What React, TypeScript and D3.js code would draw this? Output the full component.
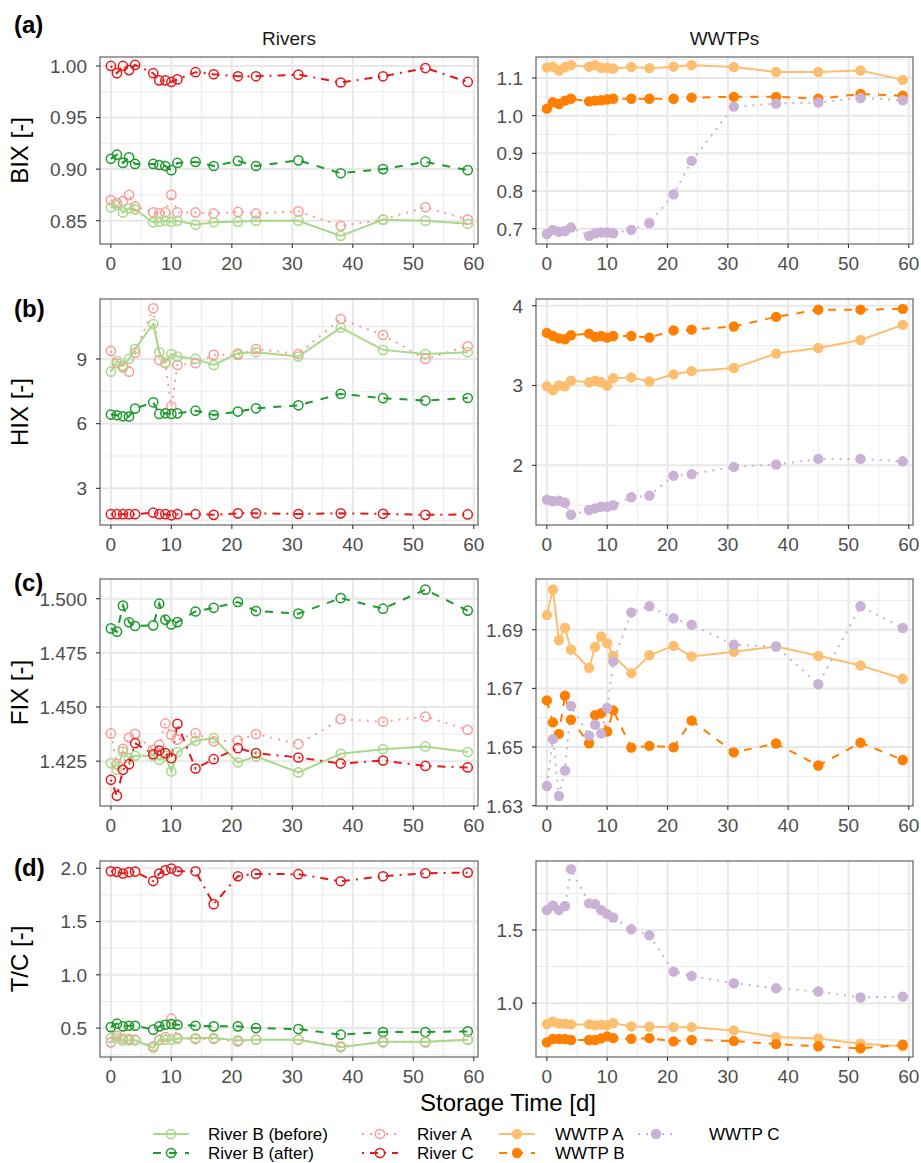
import * as d3 from "d3";

const W = 921;
const H = 1163;
const FONT = "'Liberation Sans', Arial, Helvetica, sans-serif";

// storage days
const days = [0, 1, 2, 3, 4, 7, 8, 9, 10, 11, 14, 17, 21, 24, 31, 38, 45, 52, 59];

// BIX
const bixRiverBBefore = [0.863, 0.865, 0.858, 0.862, 0.861, 0.8485, 0.849, 0.85, 0.849, 0.85, 0.846, 0.8485, 0.849, 0.85, 0.85, 0.8353, 0.851, 0.85, 0.847];
const bixRiverBAfter = [0.91, 0.914, 0.906, 0.9115, 0.905, 0.905, 0.904, 0.903, 0.899, 0.906, 0.907, 0.903, 0.908, 0.903, 0.9085, 0.896, 0.9, 0.907, 0.899];
const bixRiverA = [0.87, 0.867, 0.869, 0.875, 0.864, 0.858, 0.857, 0.858, 0.875, 0.858, 0.858, 0.857, 0.8585, 0.857, 0.859, 0.845, 0.851, 0.863, 0.851];
const bixRiverC = [1.0, 0.993, 1.0, 0.996, 1.001, 0.993, 0.986, 0.986, 0.9845, 0.987, 0.994, 0.992, 0.99, 0.99, 0.9916, 0.984, 0.99, 0.998, 0.9845];
const bixWwtpA = [1.128, 1.13, 1.12, 1.129, 1.134, 1.13, 1.134, 1.127, 1.127, 1.125, 1.129, 1.126, 1.13, 1.134, 1.129, 1.116, 1.116, 1.12, 1.095];
const bixWwtpB = [1.0186, 1.0355, 1.031, 1.04, 1.045, 1.038, 1.04, 1.041, 1.043, 1.045, 1.045, 1.045, 1.045, 1.048, 1.05, 1.05, 1.045, 1.0575, 1.053];
const bixWwtpC = [0.686, 0.697, 0.692, 0.694, 0.703, 0.681, 0.688, 0.69, 0.69, 0.688, 0.697, 0.715, 0.791, 0.88, 1.024, 1.032, 1.035, 1.047, 1.041];

// HIX
const hixRiverBBefore = [8.41, 8.91, 8.68, 9.0, 9.46, 10.62, 9.31, 8.83, 9.23, 9.11, 9.0, 8.72, 9.26, 9.31, 9.11, 10.45, 9.42, 9.23, 9.31];
const hixRiverBAfter = [6.42, 6.39, 6.34, 6.33, 6.7, 6.99, 6.45, 6.48, 6.45, 6.48, 6.6, 6.4, 6.56, 6.71, 6.85, 7.38, 7.18, 7.07, 7.19];
const hixRiverA = [9.37, 8.8, 8.61, 8.41, 9.29, 11.35, 8.95, 8.8, 6.79, 8.72, 8.8, 9.19, 9.19, 9.46, 9.23, 10.85, 10.11, 9.0, 9.59];
const hixRiverC = [1.8, 1.8, 1.8, 1.8, 1.8, 1.87, 1.8, 1.8, 1.75, 1.8, 1.8, 1.77, 1.84, 1.84, 1.81, 1.84, 1.82, 1.77, 1.79];
const hixWwtpA = [2.99, 2.94, 3.0, 2.99, 3.06, 3.04, 3.06, 3.04, 3.0, 3.09, 3.1, 3.05, 3.14, 3.18, 3.22, 3.4, 3.47, 3.57, 3.76];
const hixWwtpB = [3.66, 3.62, 3.59, 3.58, 3.63, 3.65, 3.61, 3.62, 3.6, 3.62, 3.62, 3.6, 3.69, 3.7, 3.74, 3.86, 3.95, 3.95, 3.96];
const hixWwtpC = [1.57, 1.55, 1.555, 1.53, 1.38, 1.44, 1.46, 1.48, 1.48, 1.5, 1.6, 1.62, 1.87, 1.89, 1.98, 2.01, 2.08, 2.08, 2.05];

// FIX
const fixRiverBBefore = [1.4241, 1.421, 1.4295, 1.4264, 1.4275, 1.4275, 1.4256, 1.4276, 1.4202, 1.4292, 1.4344, 1.4356, 1.4244, 1.4272, 1.4198, 1.4284, 1.4305, 1.4318, 1.4292];
const fixRiverBAfter = [1.4863, 1.4848, 1.4968, 1.4891, 1.4874, 1.4877, 1.4977, 1.4903, 1.4881, 1.4892, 1.4941, 1.4958, 1.4985, 1.4943, 1.4931, 1.5003, 1.4954, 1.5042, 1.4945];
const fixRiverA = [1.4378, 1.4236, 1.4307, 1.4359, 1.4376, 1.4302, 1.4325, 1.4424, 1.4372, 1.4349, 1.4379, 1.4341, 1.4345, 1.4375, 1.4329, 1.4444, 1.4432, 1.4456, 1.4395];
const fixRiverC = [1.4164, 1.409, 1.421, 1.4236, 1.4333, 1.4282, 1.4299, 1.4287, 1.4264, 1.4422, 1.4216, 1.4259, 1.431, 1.4287, 1.4267, 1.4239, 1.4253, 1.4228, 1.4221];
const fixWwtpA = [1.695, 1.7037, 1.6864, 1.6907, 1.6832, 1.677, 1.6841, 1.6877, 1.6854, 1.6811, 1.6752, 1.6813, 1.6845, 1.6809, 1.6825, 1.6843, 1.6811, 1.6778, 1.6733];
const fixWwtpB = [1.6659, 1.6584, 1.6545, 1.6675, 1.6593, 1.6513, 1.6609, 1.6615, 1.6553, 1.6625, 1.6498, 1.6504, 1.6499, 1.659, 1.6482, 1.6512, 1.6437, 1.6515, 1.6456];
const fixWwtpC = [1.6367, 1.6527, 1.6333, 1.642, 1.664, 1.6539, 1.6576, 1.6546, 1.6633, 1.6792, 1.6959, 1.698, 1.6939, 1.6917, 1.6849, 1.6843, 1.6714, 1.698, 1.6906];

// T/C
const tcRiverBBefore = [0.407, 0.407, 0.382, 0.385, 0.385, 0.313, 0.385, 0.391, 0.391, 0.4, 0.407, 0.407, 0.385, 0.391, 0.391, 0.319, 0.372, 0.372, 0.391];
const tcRiverBAfter = [0.509, 0.541, 0.516, 0.522, 0.522, 0.485, 0.516, 0.531, 0.538, 0.531, 0.522, 0.516, 0.516, 0.5, 0.491, 0.438, 0.463, 0.463, 0.469];
const tcRiverA = [0.366, 0.428, 0.4, 0.397, 0.391, 0.329, 0.391, 0.416, 0.588, 0.407, 0.397, 0.397, 0.375, 0.391, 0.391, 0.329, 0.366, 0.366, 0.391];
const tcRiverC = [1.972, 1.966, 1.95, 1.963, 1.969, 1.88, 1.95, 1.981, 1.997, 1.972, 1.972, 1.663, 1.925, 1.947, 1.944, 1.878, 1.925, 1.953, 1.959];
const tcWwtpA = [0.857, 0.873, 0.861, 0.859, 0.855, 0.855, 0.848, 0.852, 0.85, 0.864, 0.841, 0.839, 0.836, 0.836, 0.814, 0.768, 0.759, 0.723, 0.705];
const tcWwtpB = [0.732, 0.755, 0.755, 0.755, 0.748, 0.748, 0.748, 0.759, 0.773, 0.761, 0.757, 0.761, 0.739, 0.748, 0.741, 0.72, 0.705, 0.691, 0.716];
const tcWwtpC = [1.636, 1.668, 1.636, 1.664, 1.916, 1.682, 1.677, 1.636, 1.609, 1.586, 1.505, 1.464, 1.216, 1.186, 1.136, 1.102, 1.08, 1.039, 1.045];

const xTicks = [0, 10, 20, 30, 40, 50, 60];
const xMinor = [5, 15, 25, 35, 45, 55];
const stripLabels = ["Rivers", "WWTPs"];
const rowLabels = ["(a)", "(b)", "(c)", "(d)"];
const yTitles = ["BIX [-]", "HIX [-]", "FIX [-]", "T/C [-]"];

type Style = { color: string; dash: string; filled: boolean };
const styles: Record<string, Style> = {
  "River B (before)": { color: "#a9d88a", dash: "none", filled: false },
  "River B (after)": { color: "#1c9a2c", dash: "8 8", filled: false },
  "River A": { color: "#fb9a99", dash: "2 6", filled: false },
  "River C": { color: "#e31a1c", dash: "2 6 8 6", filled: false },
  "WWTP A": { color: "#fdbf6f", dash: "none", filled: true },
  "WWTP B": { color: "#ff7f00", dash: "8 8", filled: true },
  "WWTP C": { color: "#cab2d6", dash: "2 6", filled: true },
};
const legendCols = [
  ["River B (before)", "River B (after)"],
  ["River A", "River C"],
  ["WWTP A", "WWTP B"],
  ["WWTP C"],
];

type Panel = {
  row: number;
  col: number;
  domain: [number, number];
  ticks: number[];
  minor: number[];
  fmt: string;
  series: [string, number[]][];
};

const panels: Panel[] = [
  { row: 0, col: 0, domain: [0.8274, 1.0087], ticks: [0.85, 0.9, 0.95, 1.0], minor: [0.875, 0.925, 0.975], fmt: ".2f",
    series: [["River A", bixRiverA], ["River B (after)", bixRiverBAfter], ["River B (before)", bixRiverBBefore], ["River C", bixRiverC]] },
  { row: 0, col: 1, domain: [0.6594, 1.1557], ticks: [0.7, 0.8, 0.9, 1.0, 1.1], minor: [0.75, 0.85, 0.95, 1.05, 1.15], fmt: ".1f",
    series: [["WWTP A", bixWwtpA], ["WWTP B", bixWwtpB], ["WWTP C", bixWwtpC]] },
  { row: 1, col: 0, domain: [1.3, 11.78], ticks: [3, 6, 9], minor: [1.5, 4.5, 7.5, 10.5], fmt: "d",
    series: [["River A", hixRiverA], ["River B (after)", hixRiverBAfter], ["River B (before)", hixRiverBBefore], ["River C", hixRiverC]] },
  { row: 1, col: 1, domain: [1.252, 4.084], ticks: [2, 3, 4], minor: [1.5, 2.5, 3.5], fmt: "d",
    series: [["WWTP A", hixWwtpA], ["WWTP B", hixWwtpB], ["WWTP C", hixWwtpC]] },
  { row: 2, col: 0, domain: [1.4043, 1.5091], ticks: [1.425, 1.45, 1.475, 1.5], minor: [1.4125, 1.4375, 1.4625, 1.4875], fmt: ".3f",
    series: [["River A", fixRiverA], ["River B (after)", fixRiverBAfter], ["River B (before)", fixRiverBBefore], ["River C", fixRiverC]] },
  { row: 2, col: 1, domain: [1.6299, 1.7073], ticks: [1.63, 1.65, 1.67, 1.69], minor: [1.64, 1.66, 1.68, 1.7], fmt: ".2f",
    series: [["WWTP A", fixWwtpA], ["WWTP B", fixWwtpB], ["WWTP C", fixWwtpC]] },
  { row: 3, col: 0, domain: [0.2285, 2.068], ticks: [0.5, 1.0, 1.5, 2.0], minor: [0.25, 0.75, 1.25, 1.75], fmt: ".1f",
    series: [["River A", tcRiverA], ["River B (after)", tcRiverBAfter], ["River B (before)", tcRiverBBefore], ["River C", tcRiverC]] },
  { row: 3, col: 1, domain: [0.632, 1.972], ticks: [1.0, 1.5], minor: [0.75, 1.25, 1.75], fmt: ".1f",
    series: [["WWTP A", tcWwtpA], ["WWTP B", tcWwtpB], ["WWTP C", tcWwtpC]] },
];

// panel boxes
const colX: [number, number][] = [[100, 478], [536, 913]];
const rowY: [number, number][] = [[57, 244], [299, 525], [579, 806], [861, 1057]];
const rowLabelY = [33, 317, 591, 876];

const PointMark = ({ x, y, st }: { x: number; y: number; st: Style }) =>
  st.filled ? (
    <circle cx={x} cy={y} r={5.2} fill={st.color} />
  ) : (
    <circle cx={x} cy={y} r={4.6} fill="none" stroke={st.color} strokeWidth={1.5} />
  );

const PanelView = ({ p }: { p: Panel }) => {
  const [x0, x1] = colX[p.col];
  const [y0, y1] = rowY[p.row];
  const x = d3.scaleLinear().domain([-1.8, 60.7]).range([x0, x1]);
  const y = d3.scaleLinear().domain(p.domain).range([y1, y0]);
  const fmt = d3.format(p.fmt);
  const line = d3
    .line<number>()
    .x((_, i) => x(days[i]))
    .y((d) => y(d));
  const clipId = `clip-${p.row}-${p.col}`;
  return (
    <g>
      <defs>
        <clipPath id={clipId}>
          <rect x={x0} y={y0} width={x1 - x0} height={y1 - y0} />
        </clipPath>
      </defs>
      <rect x={x0} y={y0} width={x1 - x0} height={y1 - y0} fill="#fff" />
      <g clipPath={`url(#${clipId})`}>
        {p.minor.map((t) => (
          <line key={"ym" + t} x1={x0} x2={x1} y1={y(t)} y2={y(t)} stroke="#ebebeb" strokeWidth={1} />
        ))}
        {xMinor.map((t) => (
          <line key={"xm" + t} x1={x(t)} x2={x(t)} y1={y0} y2={y1} stroke="#ebebeb" strokeWidth={1} />
        ))}
        {p.ticks.map((t) => (
          <line key={"yM" + t} x1={x0} x2={x1} y1={y(t)} y2={y(t)} stroke="#e8e8e8" strokeWidth={2} />
        ))}
        {xTicks.map((t) => (
          <line key={"xM" + t} x1={x(t)} x2={x(t)} y1={y0} y2={y1} stroke="#e8e8e8" strokeWidth={2} />
        ))}
        {p.series.map(([name, vals]) => (
          <path
            key={"l" + name}
            d={line(vals) || ""}
            fill="none"
            stroke={styles[name].color}
            strokeWidth={2}
            strokeDasharray={styles[name].dash}
          />
        ))}
        {p.series.map(([name, vals]) =>
          vals.map((v, i) => <PointMark key={name + i} x={x(days[i])} y={y(v)} st={styles[name]} />)
        )}
      </g>
      <rect x={x0} y={y0} width={x1 - x0} height={y1 - y0} fill="none" stroke="#555" strokeWidth={1.1} />
      {p.ticks.map((t) => (
        <g key={"yt" + t}>
          <line x1={x0 - 4} x2={x0} y1={y(t)} y2={y(t)} stroke="#333" strokeWidth={1.1} />
          <text x={x0 - 13} y={y(t)} dy="0.36em" textAnchor="end" fontSize={19} fill="#4d4d4d">
            {fmt(t)}
          </text>
        </g>
      ))}
      {xTicks.map((t) => (
        <g key={"xt" + t}>
          <line x1={x(t)} x2={x(t)} y1={y1} y2={y1 + 4} stroke="#333" strokeWidth={1.1} />
          <text x={x(t)} y={y1 + 26} textAnchor="middle" fontSize={19} fill="#4d4d4d">
            {t}
          </text>
        </g>
      ))}
    </g>
  );
};

const LegendItem = ({ name, kx, tx, ky }: { name: string; kx: number; tx: number; ky: number }) => {
  const st = styles[name];
  return (
    <g>
      <line x1={kx} x2={kx + 36} y1={ky} y2={ky} stroke={st.color} strokeWidth={2} strokeDasharray={st.dash} />
      <PointMark x={kx + 18} y={ky} st={st} />
      <text x={tx} y={ky} dy="0.36em" fontSize={17} fill="#000">
        {name}
      </text>
    </g>
  );
};

const legendKeyX = [153, 362, 499, 638];
const legendTextX = [208, 417, 555, 709];
const legendRowY = [1134, 1153];

export default function App() {
  return (
    <svg
      width={W}
      height={H}
      style={{ position: "absolute", left: 0, top: 0, background: "#fff" }}
      fontFamily={FONT}
    >
      <rect width={W} height={H} fill="#fff" />
      {stripLabels.map((s, i) => (
        <text key={s} x={(colX[i][0] + colX[i][1]) / 2} y={45} textAnchor="middle" fontSize={19} fill="#1a1a1a">
          {s}
        </text>
      ))}
      {panels.map((p) => (
        <PanelView key={p.row + "-" + p.col} p={p} />
      ))}
      {rowLabels.map((l, i) => (
        <text key={l} x={14} y={rowLabelY[i]} fontSize={24} fontWeight="bold" fill="#000">
          {l}
        </text>
      ))}
      {yTitles.map((t, i) => {
        const cy = (rowY[i][0] + rowY[i][1]) / 2;
        return (
          <text key={t} transform={`translate(19,${cy}) rotate(-90)`} textAnchor="middle" dy="0.36em" fontSize={24} fill="#000">
            {t}
          </text>
        );
      })}
      <text x={508} y={1111} textAnchor="middle" fontSize={24} fill="#000">
        Storage Time [d]
      </text>
      {legendCols.map((col, ci) =>
        col.map((name, ri) => (
          <LegendItem key={name} name={name} kx={legendKeyX[ci]} tx={legendTextX[ci]} ky={legendRowY[ri]} />
        ))
      )}
    </svg>
  );
}
